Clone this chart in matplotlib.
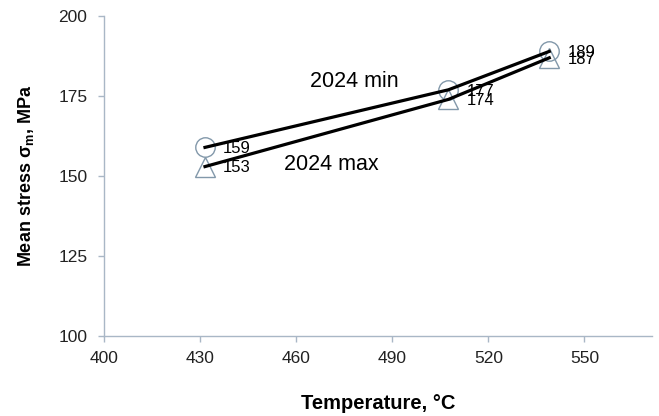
import matplotlib
matplotlib.use('Agg')
import matplotlib.pyplot as plt

plt.rcParams['font.family'] = ['Liberation Sans', 'DejaVu Sans']

# 데이터 (그림 위 위치에서 읽은 값)
temps = [431.5, 507.5, 539]
stress_min = [159, 177, 189]
stress_max = [153, 174, 187]
x_ticks = [400, 430, 460, 490, 520, 550]
y_ticks = [100, 125, 150, 175, 200]

axis_col = '#a9b7c6'
mark_col = '#8298aa'

fig = plt.figure(figsize=(6.59, 4.16), dpi=100)
ax = fig.add_axes([0.158, 0.192, 0.831, 0.769])

# 마커 (선 아래)
ax.plot(temps, stress_min, linestyle='none', marker='o', markersize=14,
        markerfacecolor='white', markeredgecolor=mark_col, markeredgewidth=1.0, zorder=2)
ax.plot(temps, stress_max, linestyle='none', marker='^', markersize=15,
        markerfacecolor='none', markeredgecolor=mark_col, markeredgewidth=1.0, zorder=2)

# 선
ax.plot(temps, stress_min, color='black', linewidth=2.3, zorder=3)
ax.plot(temps, stress_max, color='black', linewidth=2.3, zorder=3)

# 값 라벨 (원본처럼 오른쪽에 표시)
for t, v in zip(temps, stress_min):
    ax.annotate(str(v), (t, v), xytext=(13, -1), textcoords='offset points',
                ha='left', va='center', fontsize=12, zorder=4)
for t, v in zip(temps, stress_max):
    ax.annotate(str(v), (t, v), xytext=(13, -1), textcoords='offset points',
                ha='left', va='center', fontsize=12, zorder=4)

ax.text(478, 179.5, '2024 min', ha='center', va='center', fontsize=15.5)
ax.text(471, 153.5, '2024 max', ha='center', va='center', fontsize=15.5)

ax.set_xlim(400, 571)
ax.set_ylim(100, 200)
ax.set_xticks(x_ticks)
ax.set_yticks(y_ticks)

for side in ['top', 'right']:
    ax.spines[side].set_visible(False)
for side in ['left', 'bottom']:
    ax.spines[side].set_color(axis_col)
    ax.spines[side].set_linewidth(1.0)
ax.tick_params(colors=axis_col, labelcolor='#222222', labelsize=12.5, length=4, width=1)
ax.tick_params(axis='x', pad=7)
ax.tick_params(axis='y', pad=8)

ax.set_xlabel('Temperature, °C', fontsize=14.5, fontweight='bold', labelpad=20)
ax.set_ylabel(r'Mean stress σ$_\mathregular{m}$, MPa', fontsize=13, fontweight='bold', labelpad=16)

fig.savefig('out.png', dpi=100)
